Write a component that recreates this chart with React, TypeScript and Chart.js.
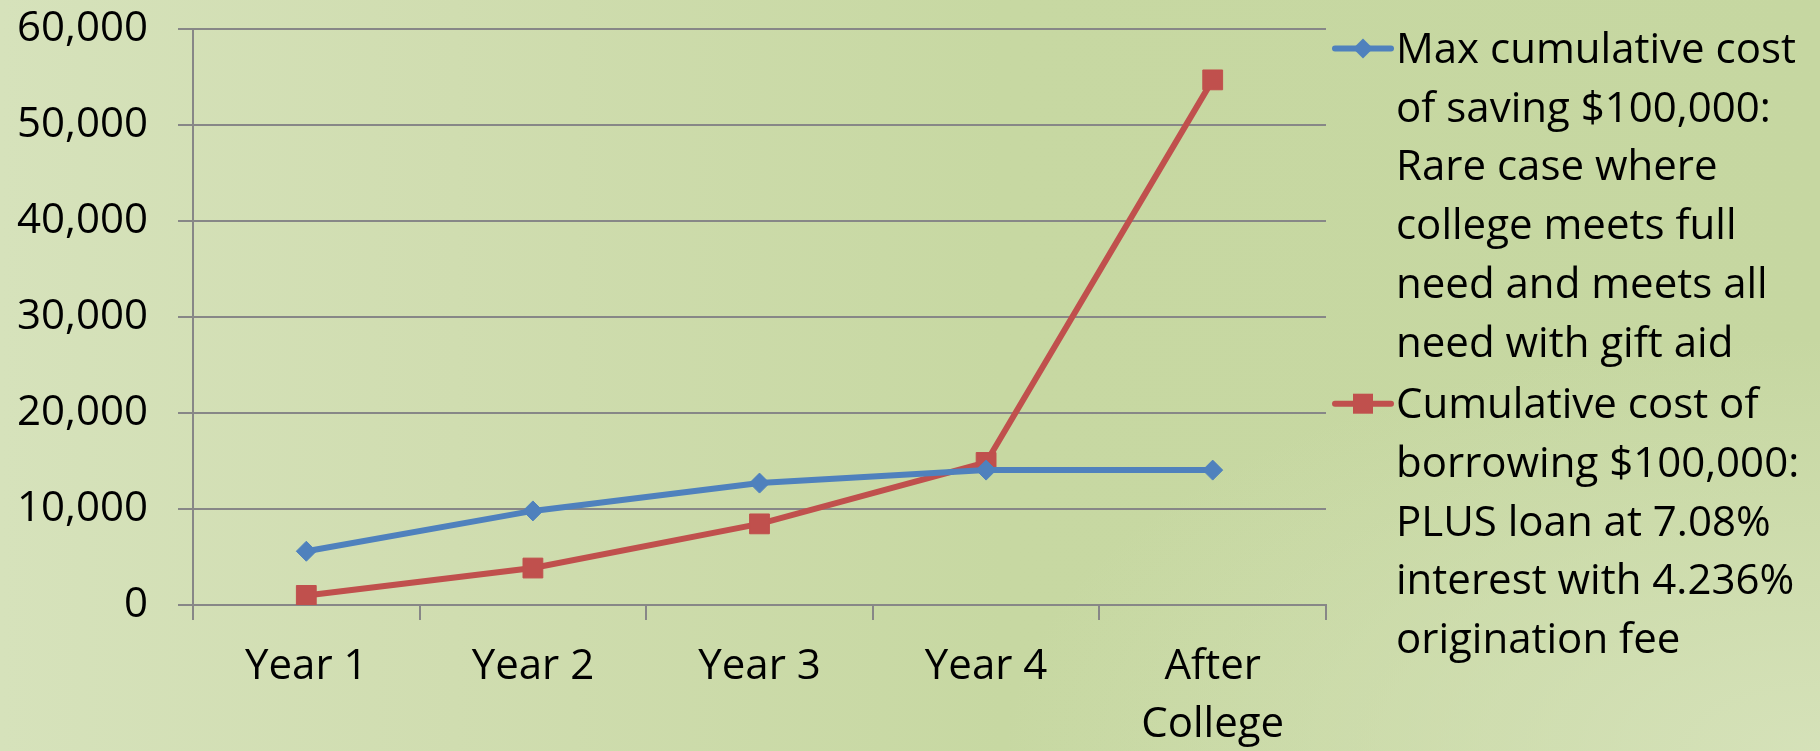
import React, { useEffect, useRef } from 'react';
import { Chart, registerables } from 'chart.js';

Chart.register(...registerables);

// ---- Data ----
const categories: (string | string[])[] = ['Year 1', 'Year 2', 'Year 3', 'Year 4', ['After', 'College']];
const savingCost: number[] = [5600, 9800, 12700, 14050, 14050];
const borrowingCost: number[] = [1000, 3850, 8450, 14850, 54700];
const savingLabel: string[] = [
  'Max cumulative cost',
  'of saving $100,000:',
  'Rare case where',
  'college meets full',
  'need and meets all',
  'need with gift aid',
];
const borrowingLabel: string[] = [
  'Cumulative cost of',
  'borrowing $100,000:',
  'PLUS loan at 7.08%',
  'interest with 4.236%',
  'origination fee',
];
const yMin = 0;
const yMax = 60000;
const yStep = 10000;

// ---- Styles ----
const FONT_FAMILY = '"Open Sans", "DejaVu Sans", sans-serif';
const FONT_SIZE = 42;
const BLUE = '#4f81bd';
const RED = '#c0504d';
const GRID = '#878787';

const sideLegend = {
  id: 'sideLegend',
  afterDraw(chart: any) {
    const ctx: CanvasRenderingContext2D = chart.ctx;
    const area = chart.chartArea;
    const lineX0 = area.right + 9;
    const lineX1 = area.right + 65;
    const markX = (lineX0 + lineX1) / 2;
    const textX = area.right + 70;
    const lineH = 58.7;
    const firstBaseline = 63;
    const entryGap = 3;
    ctx.save();
    ctx.font = `${FONT_SIZE}px ${FONT_FAMILY}`;
    ctx.fillStyle = '#000';
    ctx.textAlign = 'left';
    ctx.textBaseline = 'alphabetic';
    let baseline = firstBaseline;
    chart.data.datasets.forEach((ds: any) => {
      const lines: string[] = ds.legendLines;
      const markY = baseline - 14.5;
      ctx.strokeStyle = ds.borderColor;
      ctx.lineWidth = 6;
      ctx.lineCap = 'round';
      ctx.beginPath();
      ctx.moveTo(lineX0, markY);
      ctx.lineTo(lineX1, markY);
      ctx.stroke();
      ctx.fillStyle = ds.borderColor;
      ctx.beginPath();
      if (ds.pointStyle === 'rectRot') {
        const r = 10;
        ctx.moveTo(markX - r, markY);
        ctx.lineTo(markX, markY - r);
        ctx.lineTo(markX + r, markY);
        ctx.lineTo(markX, markY + r);
        ctx.closePath();
      } else {
        ctx.rect(markX - 10, markY - 10, 20, 20);
      }
      ctx.fill();
      ctx.fillStyle = '#000';
      lines.forEach((t, i) => {
        ctx.fillText(t, textX, baseline + i * lineH);
      });
      baseline += lines.length * lineH + entryGap;
    });
    ctx.restore();
  },
};

export default function App() {
  const canvasRef = useRef<HTMLCanvasElement | null>(null);

  useEffect(() => {
    if (!canvasRef.current) return;
    const font = { family: FONT_FAMILY, size: FONT_SIZE, lineHeight: '58px' };
    const chart = new Chart(canvasRef.current, {
      type: 'line',
      data: {
        labels: categories,
        datasets: [
          {
            label: savingLabel.join(' '),
            data: savingCost,
            borderColor: BLUE,
            backgroundColor: BLUE,
            borderWidth: 6,
            pointStyle: 'rectRot',
            pointRadius: 10,
            pointBorderWidth: 1,
            pointBackgroundColor: BLUE,
            pointBorderColor: BLUE,
            tension: 0,
            fill: false,
            legendLines: savingLabel,
          } as any,
          {
            label: borrowingLabel.join(' '),
            data: borrowingCost,
            borderColor: RED,
            backgroundColor: RED,
            borderWidth: 6,
            pointStyle: 'rect',
            pointRadius: 14,
            pointBorderWidth: 1,
            pointBackgroundColor: RED,
            pointBorderColor: RED,
            tension: 0,
            fill: false,
            legendLines: borrowingLabel,
          } as any,
        ],
      },
      options: {
        responsive: false,
        animation: false,
        devicePixelRatio: 1,
        layout: { padding: { top: 29, right: 494, left: 0, bottom: 0 }, autoPadding: false },
        plugins: {
          legend: { display: false },
          tooltip: { enabled: false },
          title: { display: false },
        },
        scales: {
          x: {
            type: 'category',
            offset: true,
            grid: {
              offset: true,
              drawOnChartArea: false,
              drawTicks: true,
              tickLength: 15,
              color: GRID,
              lineWidth: 2,
            },
            border: { color: GRID, width: 2 },
            ticks: {
              font,
              color: '#000',
              padding: 18,
              maxRotation: 0,
              autoSkip: false,
            },
            afterFit(scale: any) {
              scale.height = 146;
              scale.paddingLeft = 0;
              scale.paddingRight = 0;
            },
          },
          y: {
            min: yMin,
            max: yMax,
            grid: { color: GRID, lineWidth: 2, tickLength: 15 },
            border: { color: GRID, width: 2 },
            ticks: {
              stepSize: yStep,
              font,
              color: '#000',
              padding: 30,
              callback: (v: any) => Number(v).toLocaleString('en-US'),
            },
            afterFit(scale: any) {
              scale.width = 193;
              scale.paddingTop = 0;
              scale.paddingBottom = 0;
            },
          },
        },
      },
      plugins: [sideLegend],
    });
    return () => chart.destroy();
  }, []);

  return (
    <div
      style={{
        position: 'absolute',
        left: 0,
        top: 0,
        width: 1820,
        height: 751,
        overflow: 'hidden',
        background:
          'radial-gradient(ellipse 45% 55% at 100% 100%, rgba(214,226,186,0.95) 0%, rgba(214,226,186,0) 100%), linear-gradient(90deg, #d6e2bb 0%, #d0ddb0 25%, #c7d8a2 55%, #c6d7a1 100%)',
      }}
    >
      <canvas ref={canvasRef} width={1820} height={751} style={{ display: 'block' }} />
    </div>
  );
}
